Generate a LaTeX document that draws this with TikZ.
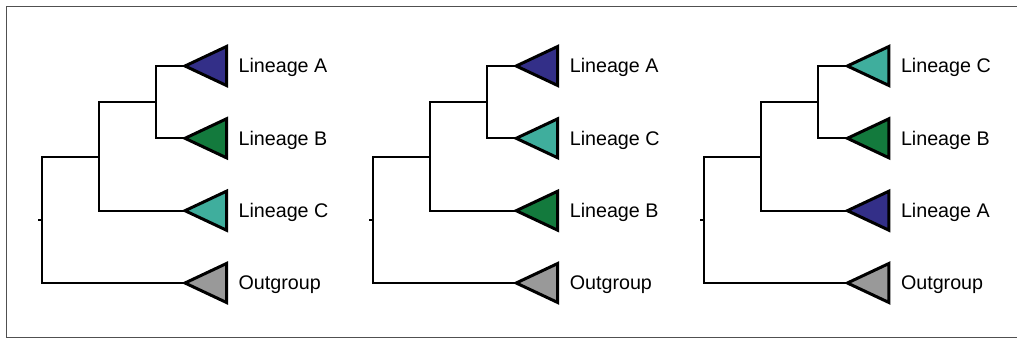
\documentclass[tikz,border=0pt]{standalone}
\usepackage{fontspec}
\setmainfont{Liberation Sans}
\definecolor{linA}{HTML}{332F88}
\definecolor{linB}{HTML}{137A3D}
\definecolor{linC}{HTML}{3FAE9D}
\definecolor{outg}{HTML}{999999}
\definecolor{frame}{HTML}{505050}

% One rooted tree: prefix, horizontal shift, then colour/label of the
% top, middle and lower clades (the outgroup is always last).
\newcommand\phylo[8]{%
  \begin{scope}[xshift=#2]
    \coordinate (#1stub) at (38.5,219.8);
    \coordinate (#1root) at (42,219.8);
    \coordinate (#1in)   at (99,157);
    \coordinate (#1ii)   at (156,102.2);
    \coordinate (#1tA)   at (185,66);
    \coordinate (#1tB)   at (185,138.3);
    \coordinate (#1tC)   at (185,210.7);
    \coordinate (#1tO)   at (185,283);
    % clades
    \draw[clade, fill=#3] (#1tA) -- ++(41.5,-19.5) -- ++(0,39) -- cycle;
    \draw[clade, fill=#5] (#1tB) -- ++(41.5,-19.5) -- ++(0,39) -- cycle;
    \draw[clade, fill=#7] (#1tC) -- ++(41.5,-19.5) -- ++(0,39) -- cycle;
    \draw[clade, fill=outg] (#1tO) -- ++(41.5,-19.5) -- ++(0,39) -- cycle;
    % branches
    \draw[branch] (#1stub) -- (#1root);
    \draw[branch] (#1root) |- (#1in);
    \draw[branch] (#1root) |- (#1tO);
    \draw[branch] (#1in) |- (#1ii);
    \draw[branch] (#1in) |- (#1tC);
    \draw[branch] (#1ii) |- (#1tA);
    \draw[branch] (#1ii) |- (#1tB);
    % names
    \node[lab] (#1lA) at (238.4,72.8) {#4};
    \node[lab] (#1lB) at (238.4,145.1) {#6};
    \node[lab] (#1lC) at (238.4,217.5) {#8};
    \node[lab] (#1lO) at (238.4,289.8) {Outgroup};
  \end{scope}}

\begin{document}
\begin{tikzpicture}[x=1pt,y=-1pt,
    branch/.style={line width=2pt, line join=miter, line cap=rect},
    clade/.style={line width=3pt, line join=miter, draw=black},
    lab/.style={anchor=base west, inner sep=0pt,
      font=\fontsize{19.7}{23}\selectfont}]
  \useasboundingbox (0,0) rectangle (1017,339);
  \fill[white] (0,0) rectangle (1017,339);
  \draw[frame, line width=1.4pt] (1017,6.7) -- (6.7,6.7) -- (6.7,337.3) -- (1017,337.3);

  \phylo{a}{0pt}{linA}{Lineage A}{linB}{Lineage B}{linC}{Lineage C}
  \phylo{b}{331.2pt}{linA}{Lineage A}{linC}{Lineage C}{linB}{Lineage B}
  \phylo{c}{662.4pt}{linC}{Lineage C}{linB}{Lineage B}{linA}{Lineage A}
\end{tikzpicture}
\end{document}
